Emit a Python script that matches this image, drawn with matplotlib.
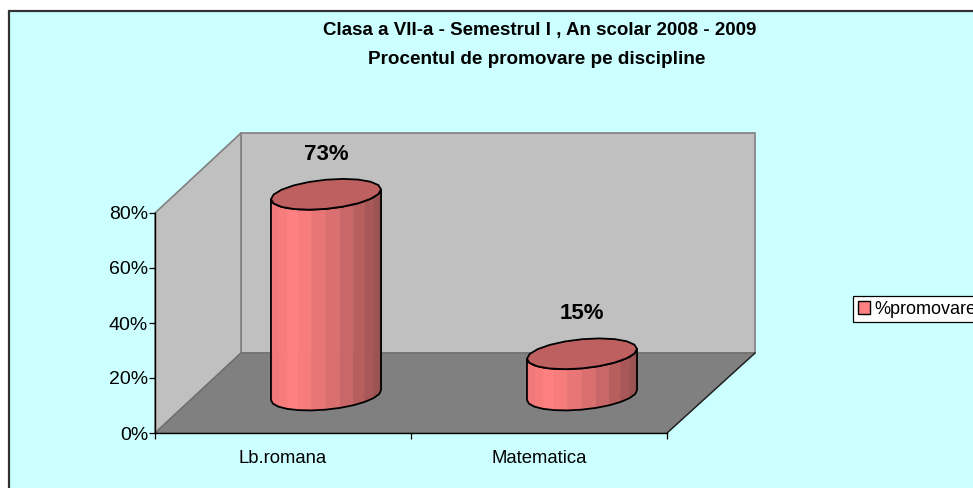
import numpy as np
import matplotlib
matplotlib.use("Agg")
import matplotlib.pyplot as plt
from matplotlib.patches import Polygon, Rectangle, Patch

categories = ["Lb.romana", "Matematica"]
promovare = [73, 15]
y_ticks = [0, 20, 40, 60, 80]
series_name = "%promovare"
title_lines = ["Clasa a VII-a - Semestrul I , An scolar 2008 - 2009",
               "Procentul de promovare pe discipline"]

W, H = 973, 488
plt.rcParams['font.family'] = ['Liberation Sans', 'DejaVu Sans']

# 3d look: depth of the box in data units
DX = 86 / 256
DY = 80 / 2.75
BACK_W = 514 / 256
BAR_A = 0.215
BAR_B = 5.3
BAR_TILT = 1.8
BASE_X = DX / 2 + 0.5
BASE_Y = 13.8


def px_axes(x0, y0, x1, y1):
    return [x0 / W, 1 - y0 / H, (x1 - x0) / W, (y0 - y1) / H]


def ring(cx, cy, t):
    return np.column_stack([cx + BAR_A * np.cos(t), cy + BAR_TILT * np.cos(t) + BAR_B * np.sin(t)])


def side_color(f):
    light = np.array([255, 128, 128]) / 255
    dark = np.array([146, 78, 78]) / 255
    if f < 0.15:
        return light * (0.94 + 0.06 * f / 0.15)
    return light + (dark - light) * ((f - 0.15) / 0.85) ** 1.2


def cylinder(ax, cx, value):
    t = np.linspace(np.pi, 2 * np.pi, 13)
    low = ring(cx, BASE_Y, t)
    high = ring(cx, BASE_Y + value, t)
    for i in range(len(t) - 1):
        f = (low[i, 0] - low[0, 0]) / (low[-1, 0] - low[0, 0])
        pts = [low[i], low[i + 1], high[i + 1], high[i]]
        ax.add_patch(Polygon(pts, closed=True, fc=side_color(f), ec=side_color(f), lw=0.4,
                             zorder=3, clip_on=False))
    outline = np.vstack([low, high[::-1]])
    ax.add_patch(Polygon(outline, closed=True, fc='none', ec='black', lw=1.3, zorder=4, clip_on=False))
    top_t = np.linspace(0, 2 * np.pi, 21)
    ax.add_patch(Polygon(ring(cx, BASE_Y + value, top_t), closed=True, fc='#BF6060', ec='black',
                         lw=1.3, zorder=5, clip_on=False))


fig = plt.figure(figsize=(W / 100, H / 100), dpi=100, facecolor='white')
fig.add_artist(Rectangle((9 / W, -0.1), 1.1, 1.1 - 11 / H, transform=fig.transFigure,
                         fc='#CCFFFF', ec='#333333', lw=1.6, zorder=-5))

ax = fig.add_axes(px_axes(155, 433, 667, 213))
ax.patch.set_visible(False)
ax.set_xlim(0, 2)
ax.set_ylim(0, 80)

# walls and floor
wall_kw = dict(closed=True, fc='#C0C0C0', ec='#808080', lw=1.2, zorder=1, clip_on=False)
ax.add_patch(Polygon([(DX, DY), (BACK_W + DX, DY), (BACK_W + DX, 80 + DY), (DX, 80 + DY)], **wall_kw))
ax.add_patch(Polygon([(0, 0), (DX, DY), (DX, 80 + DY), (0, 80)], **wall_kw))
ax.add_patch(Polygon([(0, 0), (2, 0), (BACK_W + DX, DY), (DX, DY)], closed=True, fc='#808080',
                     ec='#6E6E6E', lw=1.0, zorder=2, clip_on=False))
ax.plot([2, BACK_W + DX], [0, DY], color='#222222', lw=1.0, zorder=2, clip_on=False)

for i, v in enumerate(promovare):
    cx = BASE_X + i
    cylinder(ax, cx, v)
    ax.annotate(f"{v}%", (cx, BASE_Y + v), xytext=(0, 29), textcoords='offset points', ha='center',
                va='center', fontsize=16, fontweight='bold', zorder=6, annotation_clip=False)

ax.set_yticks(y_ticks)
ax.set_yticklabels([f"{t}%" for t in y_ticks], fontsize=14)
ax.set_xticks([0, 1, 2])
ax.set_xticklabels([])
ax.set_xticks([0.5, 1.5], minor=True)
ax.set_xticklabels(categories, minor=True, fontsize=13.3)
ax.tick_params(axis='x', which='major', length=4.5, width=0.9, direction='out')
ax.tick_params(axis='x', which='minor', length=0, pad=12)
ax.tick_params(axis='y', length=4, width=0.9, pad=1)
ax.spines['top'].set_visible(False)
ax.spines['right'].set_visible(False)
ax.spines['left'].set_linewidth(1.0)
ax.spines['bottom'].set_linewidth(1.0)
ax.spines['left'].set_zorder(7)
ax.spines['bottom'].set_zorder(7)

fig.text(540 / W, 1 - 30 / H, title_lines[0], ha='center', va='center', fontsize=13.5, fontweight='bold')
fig.text(537 / W, 1 - 59 / H, title_lines[1], ha='center', va='center', fontsize=13.6, fontweight='bold')

handle = Patch(fc='#FF8080', ec='black', lw=1.0)
leg = fig.legend([handle], [series_name], loc='center left', bbox_to_anchor=(853 / W, 1 - 309 / H),
                 fontsize=13, fancybox=False, framealpha=1, edgecolor='black', facecolor='white',
                 handlelength=0.7, handleheight=0.7, handletextpad=0.25, borderpad=0.25,
                 borderaxespad=0)
leg.get_frame().set_linewidth(0.9)

fig.savefig("out.png", dpi=100)
